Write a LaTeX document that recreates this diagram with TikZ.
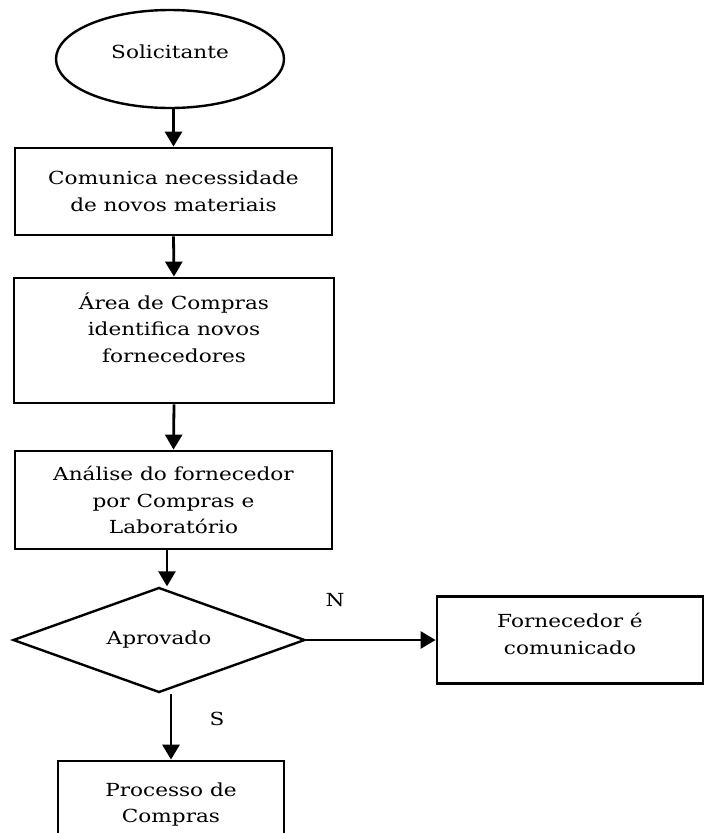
\documentclass[tikz,border=0pt]{standalone}
\usepackage{fontspec}
\setmainfont[FakeStretch=1.2]{DejaVu Serif}
\usetikzlibrary{shapes.geometric,arrows.meta}
\begin{document}
\begin{tikzpicture}[x=1pt,y=-1pt,
  every node/.style={font=\fontsize{18}{26.5}\selectfont, align=center, inner sep=0pt},
  boxstyle/.style={draw, line width=2.8pt, rectangle},
  arr/.style={line width=2.8pt, -{Triangle[length=15pt,width=17pt]}}]
\useasboundingbox (0,0) rectangle (706,833);
\node[draw, ellipse, line width=2.4pt, minimum width=228pt, minimum height=98pt] (ell) at (170,59) {\raisebox{14pt}{Solicitante}};
\node[boxstyle, minimum width=317pt, minimum height=87pt] (b1) at (173.5,191.5) {Comunica necessidade\\de novos materiais};
\node[boxstyle, minimum width=320pt, minimum height=125pt] (b2) at (174,340.5) {Área de Compras\\identifica novos\\fornecedores\\ \mbox{}};
\node[boxstyle, minimum width=317pt, minimum height=98pt] (b3) at (173.5,500) {\raisebox{-8pt}{}Análise do fornecedor\\por Compras e\\Laboratório};
\node[draw, diamond, line width=2.4pt, minimum width=292pt, minimum height=105pt, aspect=2.78] (dia) at (159,640) {Aprovado};
\node[boxstyle, minimum width=266pt, minimum height=87pt] (rb) at (570,640) {Fornecedor é\\comunicado\\[-14pt]};
\node[boxstyle, minimum width=226pt, minimum height=87pt] (bot) at (171,804.5) {Processo de\\Compras};
\node (lN) at (335,600) {N};
\node (lS) at (217,719) {S};
\draw[arr] (b1.north |- ell.south) -- (b1.north);
\draw[arr] (b1.south) -- (b2.north);
\draw[arr] (b2.south) -- (b3.north);
\coordinate (c3) at ([xshift=-6.5pt]b3.south);
\draw[arr] (c3) -- (c3 |- dia.north);
\draw[arr] (dia.east) -- (rb.west);
\draw[arr] (dia.south -| bot.north) -- (bot.north);
\end{tikzpicture}
\end{document}
